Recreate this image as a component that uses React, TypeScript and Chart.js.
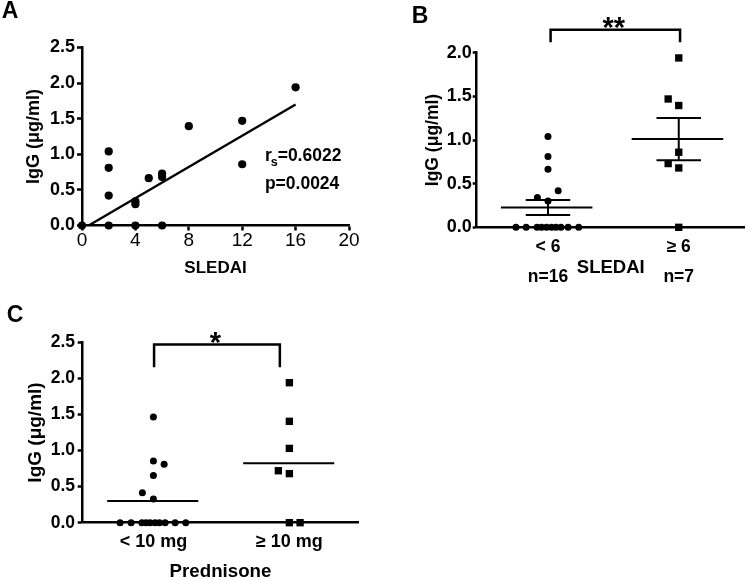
import React, { useEffect, useRef } from "react";
import { Chart, registerables } from "chart.js";

Chart.register(...registerables);

const FONT = "'Liberation Sans', Arial, Helvetica, sans-serif";

// ---------- Panel A: IgG vs SLEDAI ----------
const sledaiA = [0, 2, 2, 2, 2, 4, 4, 4, 5, 6, 6, 6, 8, 12, 12, 16];
const iggA = [0, 0, 0.42, 0.81, 1.04, 0, 0.34, 0.3, 0.665, 0.73, 0.68, 0, 1.395, 1.47, 0.86, 1.94];
const fitXA = [0.5, 16];
const fitYA = [0, 1.7];
const rsValueA = "0.6022";
const pValueA = "0.0024";

// ---------- Panel B: SLEDAI groups ----------
const groupsB = ["< 6", "\u2265 6"];
const countsB = ["n=16", "n=7"];
const lowB = [0, 0, 0, 0, 0, 0, 0, 0, 0, 0, 1.04, 0.81, 0.665, 0.34, 0.3, 0.42];
const lowOffsetB = [-0.245, -0.167, -0.083, -0.049, -0.011, 0.027, 0.061, 0.099, 0.154, 0.235, 0, 0, 0, -0.081, 0, 0.078];
const highB = [1.94, 1.47, 1.395, 0.86, 0.73, 0.68, 0];
const highOffsetB = [0, -0.081, 0, 0, -0.081, 0, 0];
const meanB = [0.226, 1.011];
const semB = [0.086, 0.242];
const sigB = "**";

// ---------- Panel C: Prednisone groups ----------
const groupsC = ["< 10 mg", "\u2265 10 mg"];
const lowC = [0, 0, 0, 0, 0, 0, 0, 0, 0, 0, 1.465, 0.855, 0.81, 0.655, 0.415, 0.33];
const lowOffsetC = [-0.245, -0.164, -0.085, -0.054, -0.024, 0.012, 0.044, 0.086, 0.16, 0.238, 0, 0, 0.079, 0, -0.081, 0];
const highC = [1.94, 1.405, 1.03, 0.72, 0.68, 0, 0];
const highOffsetC = [0, 0, 0, -0.081, 0, 0, 0.079];
const lineC = [0.3, 0.825];
const sigC = "*";

const BLACK = "#000";

function yAxis(size: number, max: number, title: string, titleSize: number, titlePad: number, width: number, tickPad: number, tickLen: number) {
  return {
    type: "linear",
    min: 0,
    max,
    ticks: {
      stepSize: 0.5,
      color: BLACK,
      padding: tickPad,
      font: { family: FONT, size, weight: "bold" },
      callback: (v: any) => Number(v).toFixed(1),
    },
    grid: { display: true, drawOnChartArea: false, drawTicks: true, tickLength: tickLen, tickWidth: 2.5, tickColor: BLACK },
    border: { display: true, color: BLACK, width: 2.5 },
    title: {
      display: true,
      text: title,
      color: BLACK,
      font: { family: FONT, size: titleSize, weight: "bold" },
      padding: { top: titlePad, bottom: 0 },
    },
    afterFit: (s: any) => {
      s.width = width;
    },
  };
}

function groupXAxis(min: number, max: number, labels: (string | string[])[], tickSize: number, lineHeight: number, tickPad: number, title: string, titleSize: number, titleLH: number, titlePad: number, height: number) {
  return {
    type: "linear",
    min,
    max,
    afterBuildTicks: (s: any) => {
      s.ticks = labels.map((_, i) => ({ value: i + 1 }));
    },
    ticks: {
      color: BLACK,
      padding: tickPad,
      maxRotation: 0,
      autoSkip: false,
      font: { family: FONT, size: tickSize, weight: "bold", lineHeight },
      callback: (v: any) => labels[Math.round(Number(v)) - 1],
    },
    grid: { display: true, drawOnChartArea: false, drawTicks: false },
    border: { display: true, color: BLACK, width: 2.5 },
    title: {
      display: true,
      text: title,
      color: BLACK,
      font: { family: FONT, size: titleSize, weight: "bold", lineHeight: titleLH },
      padding: { top: 0, bottom: titlePad },
    },
    afterFit: (s: any) => {
      s.height = height;
    },
  };
}

function segment(x1: number, y1: number, x2: number, y2: number, width: number) {
  return {
    type: "line",
    data: [
      { x: x1, y: y1 },
      { x: x2, y: y2 },
    ],
    borderColor: BLACK,
    borderWidth: width,
    pointRadius: 0,
    showLine: true,
    fill: false,
    clip: false,
  };
}

function pointsSet(values: number[], offsets: number[], center: number, style: string, radius: number) {
  return {
    type: "scatter",
    data: values.map((y, i) => ({ x: center + offsets[i], y })),
    pointStyle: style,
    pointRadius: radius,
    pointBorderWidth: 0,
    backgroundColor: BLACK,
    borderColor: BLACK,
    clip: false,
  };
}

function letterPlugin(letter: string, x: number, y: number, extra?: (chart: any, ctx: CanvasRenderingContext2D) => void) {
  return {
    id: "panel" + letter,
    afterDraw(chart: any) {
      const ctx = chart.ctx as CanvasRenderingContext2D;
      ctx.save();
      ctx.fillStyle = BLACK;
      ctx.strokeStyle = BLACK;
      ctx.font = `bold 23px ${FONT}`;
      ctx.textAlign = "left";
      ctx.textBaseline = "alphabetic";
      ctx.fillText(letter, x, y);
      if (extra) extra(chart, ctx);
      ctx.restore();
    },
  };
}

function drawBracket(chart: any, ctx: CanvasRenderingContext2D, x1: number, x2: number, yTop: number, yBottom: number, label: string) {
  const xs = chart.scales.x;
  const ys = chart.scales.y;
  const px1 = xs.getPixelForValue(x1);
  const px2 = xs.getPixelForValue(x2);
  const pt = ys.getPixelForValue(yTop);
  const pb = ys.getPixelForValue(yBottom);
  ctx.lineWidth = 2.5;
  ctx.lineJoin = "miter";
  ctx.beginPath();
  ctx.moveTo(px1, pb);
  ctx.lineTo(px1, pt);
  ctx.lineTo(px2, pt);
  ctx.lineTo(px2, pb);
  ctx.stroke();
  ctx.font = `bold 29px ${FONT}`;
  ctx.textAlign = "center";
  ctx.textBaseline = "alphabetic";
  ctx.fillText(label, (px1 + px2) / 2 - 1.5, pt + 7);
}

function configA(): any {
  return {
    type: "scatter",
    data: {
      datasets: [
        {
          data: sledaiA.map((x, i) => ({ x, y: iggA[i] })),
          pointStyle: "circle",
          pointRadius: 4.1,
          pointBorderWidth: 0,
          backgroundColor: BLACK,
          borderColor: BLACK,
          clip: false,
        },
        segment(fitXA[0], fitYA[0], fitXA[1], fitYA[1], 2.4),
      ],
    },
    options: {
      animation: false,
      responsive: false,
      layout: { padding: { left: 0, right: 26, top: 47.5, bottom: 0 } },
      plugins: { legend: { display: false }, tooltip: { enabled: false } },
      scales: {
        x: {
          type: "linear",
          min: 0,
          max: 20,
          ticks: {
            stepSize: 4,
            color: BLACK,
            padding: -1,
            maxRotation: 0,
            font: { family: FONT, size: 19 },
          },
          grid: { display: true, drawOnChartArea: false, drawTicks: true, tickLength: 5, tickWidth: 2.5, tickColor: BLACK },
          border: { display: true, color: BLACK, width: 2.5 },
          title: {
            display: true,
            text: "SLEDAI",
            color: BLACK,
            font: { family: FONT, size: 17, weight: "bold" },
            padding: { top: 0, bottom: 11.5 },
          },
          afterFit: (s: any) => {
            s.height = 64.5;
          },
        },
        y: yAxis(18, 2.5, "IgG (\u03bcg/ml)", 18, 23, 82, 2, 5),
      },
    },
    plugins: [
      letterPlugin("A", 1.7, 18.3, (chart, ctx) => {
        const xs = chart.scales.x;
        const ys = chart.scales.y;
        const x0 = xs.getPixelForValue(13.7);
        const b1 = ys.getPixelForValue(0.91);
        const b2 = ys.getPixelForValue(0.51);
        ctx.textAlign = "left";
        ctx.font = `bold 17.5px ${FONT}`;
        ctx.fillText("r", x0, b1);
        const rw = ctx.measureText("r").width;
        ctx.font = `bold 12.5px ${FONT}`;
        ctx.fillText("s", x0 + rw - 1, b1 + 5);
        const sw = ctx.measureText("s").width;
        ctx.font = `bold 17.5px ${FONT}`;
        ctx.fillText("=" + rsValueA, x0 + rw + sw - 1, b1);
        ctx.fillText("p=" + pValueA, x0, b2);
      }),
    ],
  };
}

function configB(): any {
  const datasets: any[] = [
    pointsSet(lowB, lowOffsetB, 1, "circle", 3.5),
    pointsSet(highB, highOffsetB, 2, "rect", 5.2),
  ];
  meanB.forEach((m, i) => {
    const c = i + 1;
    const s = semB[i];
    datasets.push(segment(c - 0.36, m, c + 0.34, m, 2));
    datasets.push(segment(c - 0.17, m + s, c + 0.17, m + s, 2));
    datasets.push(segment(c - 0.17, m - s, c + 0.17, m - s, 2));
    datasets.push(segment(c, m - s, c, m + s, 2));
  });
  return {
    type: "scatter",
    data: { datasets },
    options: {
      animation: false,
      responsive: false,
      layout: { padding: { left: 0, right: 3.3, top: 52.7, bottom: 0 } },
      plugins: { legend: { display: false }, tooltip: { enabled: false } },
      scales: {
        x: groupXAxis(
          0.455,
          2.505,
          groupsB.map((g, i) => [g, countsB[i]]),
          17.5,
          30 / 17.5,
          4.4,
          "SLEDAI",
          18.5,
          1.2,
          10.9,
          62.7
        ),
        y: yAxis(18, 2.0, "IgG (\u03bcg/ml)", 17.5, 47.8, 101.7, 1, 4),
      },
    },
    plugins: [
      letterPlugin("B", 36.7, 23.3, (chart, ctx) => {
        drawBracket(chart, ctx, 1.02, 2.01, 2.263, 2.12, sigB);
      }),
    ],
  };
}

function configC(): any {
  const datasets: any[] = [
    pointsSet(lowC, lowOffsetC, 1, "circle", 3.5),
    pointsSet(highC, highOffsetC, 2, "rect", 5.2),
  ];
  lineC.forEach((m, i) => {
    const c = i + 1;
    datasets.push(segment(c - 0.34, m, c + 0.33, m, 2));
  });
  return {
    type: "scatter",
    data: { datasets },
    options: {
      animation: false,
      responsive: false,
      layout: { padding: { left: 0, right: 16.7, top: 52.3, bottom: 0 } },
      plugins: { legend: { display: false }, tooltip: { enabled: false } },
      scales: {
        x: groupXAxis(0.48, 2.507, groupsC, 18, 1.2, 8.2, "Prednisone", 18.7, 1.0, -1, 57.3),
        y: yAxis(17.5, 2.5, "IgG (\u03bcg/ml)", 19, 24.3, 82.7, 2.7, 5),
      },
    },
    plugins: [
      letterPlugin("C", 6.7, 31.7, (chart, ctx) => {
        drawBracket(chart, ctx, 1.005, 1.93, 2.468, 2.155, sigC);
      }),
    ],
  };
}

export default function App() {
  const refA = useRef<HTMLCanvasElement>(null);
  const refB = useRef<HTMLCanvasElement>(null);
  const refC = useRef<HTMLCanvasElement>(null);

  useEffect(() => {
    const charts = [
      new Chart(refA.current as HTMLCanvasElement, configA()),
      new Chart(refB.current as HTMLCanvasElement, configB()),
      new Chart(refC.current as HTMLCanvasElement, configC()),
    ];
    return () => charts.forEach((c) => c.destroy());
  }, []);

  const cs: React.CSSProperties = { position: "absolute" };
  return (
    <div
      style={{
        position: "absolute",
        left: 0,
        top: 0,
        width: 750,
        height: 580,
        background: "#fff",
        overflow: "hidden",
      }}
    >
      <canvas ref={refA} width={375} height={290} style={{ ...cs, left: 0, top: 0 }} />
      <canvas ref={refB} width={375} height={290} style={{ ...cs, left: 375, top: 0 }} />
      <canvas ref={refC} width={375} height={290} style={{ ...cs, left: 0, top: 290 }} />
    </div>
  );
}
